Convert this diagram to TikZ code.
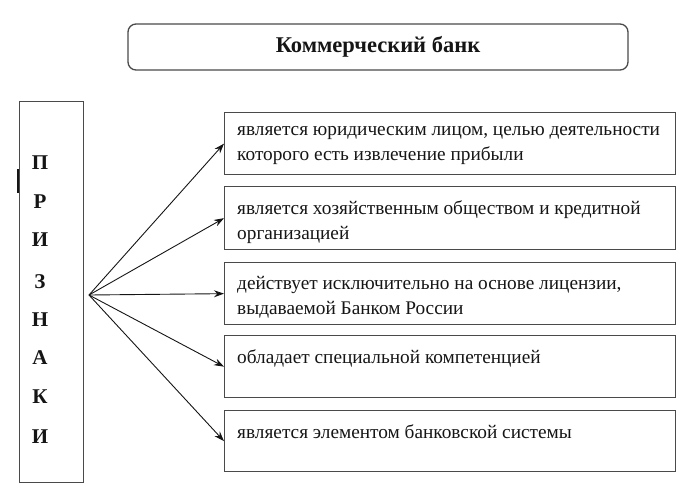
\documentclass[tikz,border=0pt]{standalone}
\usepackage{fontspec}
\setmainfont{Liberation Serif}
\usetikzlibrary{arrows.meta}
\definecolor{frame}{HTML}{4A4A4A}
\definecolor{ink}{HTML}{151515}
\tikzset{
  boxframe/.style={draw=frame, line width=1.3pt, rectangle, anchor=north west, inner sep=0pt, minimum width=451pt},
  boxtext/.style={anchor=north west, inner sep=0pt, align=left, text=ink, font=\fontsize{19.3}{25}\selectfont},
  letter/.style={text=ink, font=\fontsize{21}{24}\selectfont\bfseries, inner sep=0pt},
  arr/.style={draw=ink, line width=0.9pt, -{Stealth[length=10pt,width=7pt]}},
}
\begin{document}
\begin{tikzpicture}[x=1pt,y=-1pt]
\useasboundingbox (0,0) rectangle (700,496);
% title
\node[draw=frame, line width=1.3pt, rounded corners=8pt, minimum width=500pt, minimum height=46pt, inner sep=0pt,
      font=\fontsize{22.5}{26}\selectfont\bfseries, text=ink] (title) at (378,47) {Коммерческий банк};
% left box
\node[draw=frame, line width=1.3pt, rectangle, anchor=north west, inner sep=0pt, minimum width=64pt, minimum height=381pt] (left) at (19,101) {};
\draw[draw=ink, line width=1.5pt] (18,169) -- (18,193);
\node[letter] (l1) at (40,163) {П};
\node[letter] (l2) at (40,202) {Р};
\node[letter] (l3) at (40,240) {И};
\node[letter] (l4) at (40,282) {З};
\node[letter] (l5) at (40,320) {Н};
\node[letter] (l6) at (40,358) {А};
\node[letter] (l7) at (40,397) {К};
\node[letter] (l8) at (40,437) {И};
% right boxes
\node[boxframe, minimum height=62pt] (b1) at (224,112) {};
\node[boxframe, minimum height=63pt] (b2) at (224,186) {};
\node[boxframe, minimum height=62pt] (b3) at (224,262) {};
\node[boxframe, minimum height=62pt] (b4) at (224,335) {};
\node[boxframe, minimum height=61pt] (b5) at (224,410) {};
\node[boxtext] (t1) at (237,126) {является юридическим лицом, целью деятельности\\которого есть извлечение прибыли};
\node[boxtext] (t2) at (237,200) {является хозяйственным обществом и кредитной\\организацией};
\node[boxtext] (t3) at (237,276) {действует исключительно на основе лицензии,\\выдаваемой Банком России};
\node[boxtext] (t4) at (237,349) {обладает специальной компетенцией};
\node[boxtext] (t5) at (237,424) {является элементом банковской системы};
% arrows
\coordinate (o) at (89,295);
\draw[arr] (o) -- (b1.west);
\draw[arr] (o) -- (b2.west);
\draw[arr] (o) -- (b3.west);
\draw[arr] (o) -- (b4.west);
\draw[arr] (o) -- (b5.west);
\end{tikzpicture}
\end{document}
